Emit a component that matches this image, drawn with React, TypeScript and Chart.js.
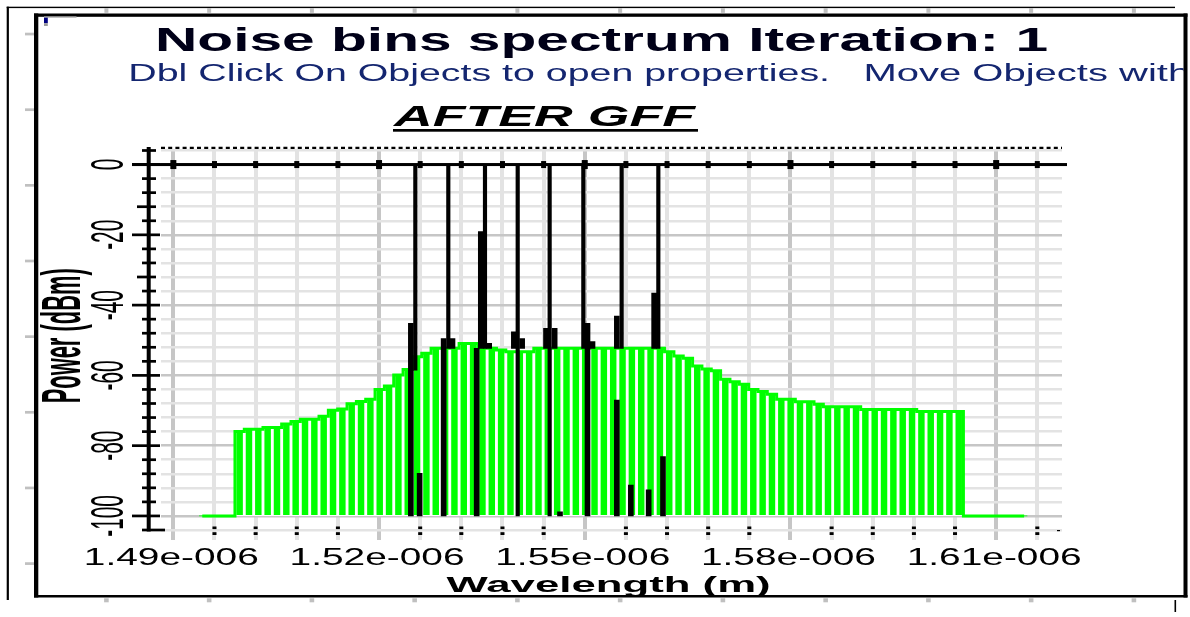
import React, { useEffect, useRef } from 'react';
import { Chart, registerables } from 'chart.js';

Chart.register(...registerables);

// ---------------- texts ----------------
const TITLE = 'Noise bins spectrum Iteration: 1';
const SUBTITLE = 'Dbl Click On Objects to open properties.  Move Objects with the mouse.';
const PLOT_LABEL = 'AFTER GFF';
const X_TITLE = 'Wavelength (m)';
const Y_TITLE = 'Power (dBm)';

// ---------------- axes ----------------
const X_MIN_NM = 1488.2;
const X_MAX_NM = 1619.6;
const X_TICK_NM = [1490, 1520, 1550, 1580, 1610];
const X_TICK_LABELS = ['1.49e-006', '1.52e-006', '1.55e-006', '1.58e-006', '1.61e-006'];
const X_GRID_NM = [1490, 1496, 1502, 1508, 1514, 1520, 1526, 1532, 1538, 1544, 1550, 1556, 1562, 1568, 1574, 1580, 1586, 1592, 1598, 1604, 1610, 1616];
const Y_MIN_DBM = -104;
const Y_MAX_DBM = 4;
const Y_TICK_DBM = [0, -20, -40, -60, -80, -100];
const Y_TICK_LABELS = ['0', '-20', '-40', '-60', '-80', '-100'];
const Y_GRID_DBM = [-104, -100, -96, -92, -88, -84, -80, -76, -72, -68, -64, -60, -56, -52, -48, -44, -40, -36, -32, -28, -24, -20, -16, -12, -8, -4, 0, 4];
const Y_LONG_MINOR_DBM = [-12, -32];

// ---------------- data ----------------
// noise bins (green): bin centres start at NOISE_BIN_FIRST_NM, spaced NOISE_BIN_WIDTH_NM
const NOISE_BIN_FIRST_NM = 1494.22;
const NOISE_BIN_WIDTH_NM = 1.362;
const NOISE_BIN_DBM = [
  -100, -100, -100, -100,
  -76.0, -75.3, -75.3, -74.8, -74.8, -73.8, -73.1, -72.5, -72.5, -71.6,
  -69.9, -69.6, -68.1, -67.4, -66.8, -64.0, -63.0, -59.9, -58.3, -54.7,
  -53.7, -52.3, -52.3, -52.3, -50.9, -50.9, -52.3, -52.3, -52.8, -53.3,
  -53.3, -53.3, -52.3, -52.3, -52.3, -52.3, -52.3, -52.3, -52.3, -52.3,
  -52.3, -52.3, -52.3, -52.3, -52.3, -52.3, -53.3, -54.5, -55.1, -57.3,
  -58.2, -58.7, -61.1, -61.8, -62.5, -64.0, -64.6, -65.4, -66.8, -66.8,
  -67.5, -67.5, -68.2, -68.9, -68.9, -68.9, -68.9, -69.7, -69.7, -69.7,
  -69.7, -69.7, -69.7, -70.3, -70.3, -70.3, -70.3, -70.3,
  -100, -100, -100, -100, -100, -100, -100,
];

// signal channels (black): peaks
const SIGNAL_PEAK_NM = [1525.29, 1530.10, 1535.45, 1540.22, 1544.88, 1549.79, 1555.38, 1560.73];
const SIGNAL_PEAK_LOW_DBM = [-58.5, -52.3, -52.3, -100, -100, -52.3, -52.3, -52.3];
const SIGNAL_PEAK_HIGH_DBM = [0, 0, 0, 0, 0, 0, 0, 0];

// signal side bins (black)
const SIGNAL_SIDE_NM = [1524.64, 1525.92, 1529.42, 1530.71, 1534.84, 1534.24, 1536.06, 1539.66, 1540.87, 1544.35, 1545.61, 1546.39, 1550.40, 1551.13, 1554.68, 1554.68, 1556.72, 1559.32, 1560.12, 1561.41];
const SIGNAL_SIDE_LOW_DBM = [-100, -100, -100, -52.3, -52.3, -100, -52.3, -52.3, -52.3, -52.3, -52.3, -100, -100, -52.3, -52.3, -100, -100, -100, -52.3, -100];
const SIGNAL_SIDE_HIGH_DBM = [-45.2, -87.9, -49.5, -49.5, -19.1, -52.3, -50.9, -47.6, -49.5, -46.6, -46.6, -98.8, -45.2, -50.4, -43.1, -67.0, -91.2, -92.6, -36.6, -83.1];

// ---------------- layout / style ----------------
const W = 1190;
const H = 617;
const FONT = '"Liberation Sans", Arial, Helvetica, sans-serif';
const GREEN = '#00ff00';
const GRID_MAJOR = '#c6c6c6';
const GRID_MINOR = '#e3e3e3';

function fitText(ctx: CanvasRenderingContext2D, text: string, font: string, color: string, x: number, baseline: number, targetW: number, align: CanvasTextAlign, fitOn?: string) {
  ctx.save();
  ctx.font = font;
  const w = ctx.measureText(fitOn || text).width;
  const sx = targetW / w;
  ctx.translate(x, baseline);
  ctx.scale(sx, 1);
  ctx.textAlign = align;
  ctx.textBaseline = 'alphabetic';
  ctx.fillStyle = color;
  ctx.fillText(text, 0, 0);
  ctx.restore();
}

function vText(ctx: CanvasRenderingContext2D, text: string, font: string, color: string, baselineX: number, centerY: number, alongScale: number, acrossScale: number) {
  ctx.save();
  ctx.font = font;
  ctx.translate(baselineX, centerY);
  ctx.scale(acrossScale, alongScale);
  ctx.rotate(-Math.PI / 2);
  ctx.textAlign = 'center';
  ctx.textBaseline = 'alphabetic';
  ctx.fillStyle = color;
  ctx.fillText(text, 0, 0);
  ctx.restore();
}

const decorPlugin = {
  id: 'decor',
  beforeDraw(chart: any) {
    const ctx = chart.ctx as CanvasRenderingContext2D;
    ctx.save();
    ctx.fillStyle = '#ffffff';
    ctx.fillRect(0, 0, W, H);
    ctx.restore();
  },
  afterDraw(chart: any) {
    const ctx = chart.ctx as CanvasRenderingContext2D;
    const xs = chart.scales.x;
    const ys = chart.scales.y;
    const area = chart.chartArea;
    const y0 = ys.getPixelForValue(0);
    ctx.save();

    // dashed top border
    ctx.strokeStyle = '#000';
    ctx.lineWidth = 2.3;
    ctx.setLineDash([4, 3.2]);
    ctx.beginPath();
    ctx.moveTo(area.left, area.top - 2.7);
    ctx.lineTo(area.right, area.top - 2.7);
    ctx.stroke();
    ctx.setLineDash([]);

    ctx.fillStyle = '#000';
    // zero-dBm axis line with tick squares
    ctx.fillRect(132, y0 - 1.5, 1067 - 132, 3);
    X_GRID_NM.forEach((v) => {
      const px = xs.getPixelForValue(v);
      const major = X_TICK_NM.includes(v);
      const w = major ? 6 : 5;
      const h = major ? 9 : 7;
      ctx.fillRect(px - w / 2, y0 - h / 2, w, h);
      if (!major) {
        ctx.fillRect(px - 2, area.bottom - 3.5, 4, 2.6);
        ctx.fillRect(px - 2, area.bottom + 2.2, 4, 2.8);
      }
    });
    ctx.fillRect(area.right - 5, area.bottom, 3, 1.2);

    // y axis
    const yBottom = ys.getPixelForValue(Y_MIN_DBM);
    ctx.fillRect(146.7, 147, 4, yBottom + 1.5 - 147);
    Y_GRID_DBM.forEach((v) => {
      const py = ys.getPixelForValue(v);
      let x1 = 142;
      let x2 = 156;
      if (v % 20 === 0) { x1 = 132; x2 = 160; }
      else if (Y_LONG_MINOR_DBM.includes(v)) x1 = 137;
      if (v === Y_MIN_DBM) x2 = 165;
      ctx.fillRect(x1, py - 1.35, x2 - x1, 2.7);
    });

    // y tick labels (rotated)
    Y_TICK_DBM.forEach((v, i) => {
      vText(ctx, Y_TICK_LABELS[i], `20.8px ${FONT}`, '#000', 123, ys.getPixelForValue(v), 1, 2.2);
    });
    // x tick labels
    X_TICK_NM.forEach((v, i) => {
      fitText(ctx, X_TICK_LABELS[i], `23.3px ${FONT}`, '#000', xs.getPixelForValue(v) - 2, 565, 175, 'center');
    });

    // axis titles
    {
      const f = `bold 22px ${FONT}`;
      ctx.font = f;
      const wlen = ctx.measureText(Y_TITLE).width;
      vText(ctx, Y_TITLE, f, '#000', 80, 335.8, 135 / wlen, 40 / (0.716 * 22));
    }
    fitText(ctx, X_TITLE, `bold 22px ${FONT}`, '#000', 446.6, 591.7, 324, 'left');

    // titles
    fitText(ctx, TITLE, `bold 33.5px ${FONT}`, '#000018', 601.5, 50.7, 893, 'center');
    {
      const cut = SUBTITLE.indexOf('  ');
      const part1 = SUBTITLE.slice(0, cut);
      const part2 = SUBTITLE.slice(cut + 2);
      const subFont = `24.2px ${FONT}`;
      const subColor = '#142670';
      ctx.save();
      ctx.beginPath();
      ctx.rect(0, 0, 1183.5, H);
      ctx.clip();
      fitText(ctx, part1, subFont, subColor, 128.3, 80.7, 830 - 128.3, 'left');
      fitText(ctx, part2, subFont, subColor, 863.4, 80.7, 1119 - 863.4, 'left', 'Move Objects ');
      ctx.restore();
    }
    fitText(ctx, PLOT_LABEL, `italic bold 30px ${FONT}`, '#000', 394, 125.7, 301, 'left');
    ctx.fillStyle = '#000';
    ctx.fillRect(393, 129, 305, 2.7);

    // frame
    ctx.fillRect(34, 13.5, 4.3, 597.5 - 13.5);
    ctx.fillRect(34, 13.5, 1187.5 - 34, 3.3);
    ctx.fillRect(1183.5, 13.5, 4, 597.5 - 13.5);
    ctx.fillRect(34, 595, 1187.5 - 34, 2.5);
    // outer thin lines
    ctx.fillRect(6.7, 6.7, 1175 - 6.7, 1.4);
    ctx.fillRect(6.7, 6.7, 2.2, 600 - 6.7);
    ctx.fillRect(1174.5, 600, 1.6, 12);
    // top-left marker
    ctx.fillStyle = '#000080';
    ctx.fillRect(44, 17.3, 3.8, 6);
    ctx.fillStyle = '#9a9a9a';
    ctx.fillRect(44, 16.2, 32.5, 1.4);
    ctx.fillRect(44, 23.3, 3.8, 2.7);
    // ruler marks
    ctx.fillStyle = '#c0c0c0';
    for (let k = 0; k <= 10; k++) {
      const rx = 106.4 + 102.75 * k;
      ctx.fillRect(rx - 2, 8.1, 4, 4.7);
      ctx.fillRect(rx - 2.3, 598.3, 4.6, 4);
    }
    for (let k = 0; k <= 7; k++) {
      const ry = 34 + 75.65 * k;
      ctx.fillRect(25, ry - 1.3, 9, 2.7);
    }
    ctx.restore();
  },
};

export default function App() {
  const ref = useRef<HTMLCanvasElement>(null);
  useEffect(() => {
    document.body.style.margin = '0';
    const canvas = ref.current;
    if (!canvas) return;
    const noiseBars = NOISE_BIN_DBM.map((v, i) => ({ x: NOISE_BIN_FIRST_NM + i * NOISE_BIN_WIDTH_NM, y: v }));
    const noiseOutline = NOISE_BIN_DBM.map((v, i) => ({ x: NOISE_BIN_FIRST_NM + i * NOISE_BIN_WIDTH_NM, y: v }));
    const peakBars = SIGNAL_PEAK_NM.map((x, i) => ({ x, y: [SIGNAL_PEAK_LOW_DBM[i], SIGNAL_PEAK_HIGH_DBM[i]] }));
    const sideBars = SIGNAL_SIDE_NM.map((x, i) => ({ x, y: [SIGNAL_SIDE_LOW_DBM[i], SIGNAL_SIDE_HIGH_DBM[i]] }));

    const chart = new Chart(canvas, {
      type: 'bar',
      data: {
        datasets: [
          { type: 'bar', label: 'Signal', data: peakBars, backgroundColor: '#000000', barThickness: 3.5, grouped: false, order: 0 } as any,
          { type: 'bar', label: 'Signal side bins', data: sideBars, backgroundColor: '#000000', barThickness: 5, grouped: false, order: 1 } as any,
          { type: 'bar', label: 'Noise bins', data: noiseBars, backgroundColor: GREEN, barThickness: 5.8, grouped: false, base: -100, order: 2 } as any,
          { type: 'line', label: 'Noise bins outline', data: noiseOutline, borderColor: GREEN, borderWidth: 3, stepped: 'middle', pointRadius: 0, fill: { value: -100 }, backgroundColor: '#ffffff', order: 3 } as any,
        ],
      },
      options: {
        responsive: false,
        animation: false,
        events: [],
        layout: { padding: { left: 161, right: W - 1062, top: 150.5, bottom: H - 530 } },
        plugins: { legend: { display: false }, tooltip: { enabled: false }, title: { display: false } },
        scales: {
          x: {
            type: 'linear',
            offset: false,
            min: X_MIN_NM,
            max: X_MAX_NM,
            border: { display: false },
            ticks: { display: false },
            afterBuildTicks: (s: any) => { s.ticks = X_GRID_NM.map((value) => ({ value })); },
            afterFit: (s: any) => { s.height = 0; },
            grid: {
              offset: false,
              drawTicks: true,
              tickLength: 10,
              lineWidth: 4,
              color: (c: any) => (X_TICK_NM.includes(c.tick?.value) ? GRID_MAJOR : GRID_MINOR),
            },
          },
          y: {
            type: 'linear',
            min: Y_MIN_DBM,
            max: Y_MAX_DBM,
            border: { display: false },
            ticks: { display: false },
            afterBuildTicks: (s: any) => { s.ticks = Y_GRID_DBM.map((value) => ({ value })); },
            afterFit: (s: any) => { s.width = 0; },
            grid: {
              drawTicks: false,
              lineWidth: 2.5,
              color: (c: any) => (Y_TICK_DBM.includes(c.tick?.value) ? GRID_MAJOR : GRID_MINOR),
            },
          },
        },
      } as any,
      plugins: [decorPlugin],
    });
    return () => chart.destroy();
  }, []);

  return (
    <div style={{ position: 'absolute', left: 0, top: 0, width: W, height: H, background: '#ffffff' }}>
      <canvas ref={ref} width={W} height={H} style={{ display: 'block', width: W, height: H }} />
    </div>
  );
}
